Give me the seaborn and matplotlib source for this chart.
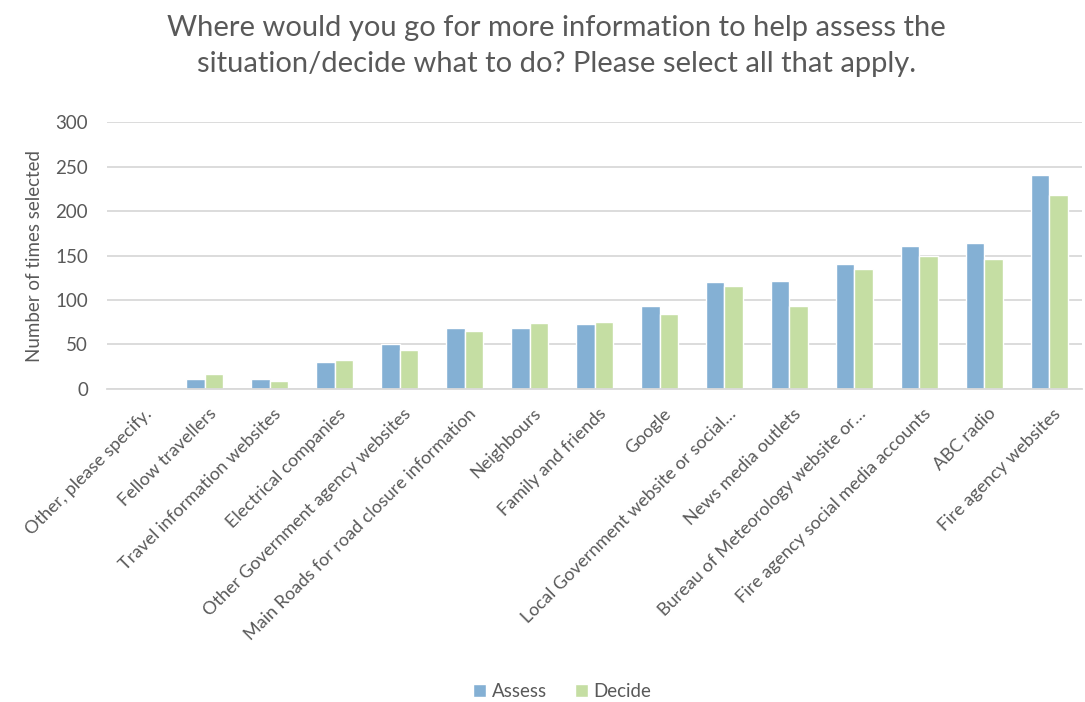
import matplotlib
matplotlib.use("Agg")
import matplotlib.pyplot as plt
import matplotlib.transforms as mtransforms
import seaborn as sns
import pandas as pd

categories = [
    "Other, please specify.",
    "Fellow travellers",
    "Travel information websites",
    "Electrical companies",
    "Other Government agency websites",
    "Main Roads for road closure information",
    "Neighbours",
    "Family and friends",
    "Google",
    "Local Government website or social\u2026",
    "News media outlets",
    "Bureau of Meteorology website or\u2026",
    "Fire agency social media accounts",
    "ABC radio",
    "Fire agency websites",
]
assess = [0, 11, 11, 30, 51, 69, 69, 73, 93, 120, 121, 141, 161, 164, 241]
decide = [0, 17, 9, 32, 44, 65, 74, 75, 84, 116, 93, 135, 149, 146, 218]
series_names = ["Assess", "Decide"]
title = "Where would you go for more information to help assess the\nsituation/decide what to do? Please select all that apply."
ylabel = "Number of times selected"

df = pd.DataFrame({
    "category": categories * 2,
    "value": assess + decide,
    "series": [series_names[0]] * len(categories) + [series_names[1]] * len(categories),
})

sns.set_theme(style="white")
plt.rcParams["font.family"] = ["Lato", "DejaVu Sans"]
text_color = "#595959"

fig = plt.figure(figsize=(10.85, 7.02), dpi=100)
ax = fig.add_axes([0.099, 0.446, 0.898, 0.38])

palette = {"Assess": "#84B0D4", "Decide": "#C5DEA3"}
sns.barplot(data=df, x="category", y="value", hue="series", palette=palette,
            width=0.57, ax=ax, saturation=1, legend=True)

ax.set_ylim(0, 300)
ax.set_yticks(range(0, 301, 50))
ax.yaxis.grid(True, color="#D9D9D9", linewidth=1.3)
ax.set_axisbelow(True)
for s in ["top", "right", "left"]:
    ax.spines[s].set_visible(False)
ax.spines["bottom"].set_color("#D9D9D9")
ax.spines["bottom"].set_linewidth(1.3)
ax.tick_params(axis="y", length=0, labelsize=13.5, labelcolor=text_color, pad=14)
ax.tick_params(axis="x", length=0, labelsize=13, labelcolor=text_color, pad=16)
offset = mtransforms.ScaledTranslation(0.09, 0.0, fig.dpi_scale_trans)
for lab in ax.get_xticklabels():
    lab.set_rotation(45)
    lab.set_ha("right")
    lab.set_va("center")
    lab.set_rotation_mode("anchor")
    lab.set_transform(lab.get_transform() + offset)
ax.set_xlabel("")
ax.set_ylabel(ylabel, fontsize=13.5, color=text_color, labelpad=9)
ax.set_xlim(-0.5, len(categories) - 0.5)

fig.suptitle(title, fontsize=21, color=text_color, x=0.513, y=0.978, va="top", linespacing=1.45)

leg = ax.legend(loc="lower center", bbox_to_anchor=(0.518, -0.008), bbox_transform=fig.transFigure,
                ncol=2, frameon=False, fontsize=13.5, handlelength=0.7, handleheight=0.7,
                handletextpad=0.3, columnspacing=1.5, borderaxespad=0.0)
for t in leg.get_texts():
    t.set_color(text_color)

fig.savefig("out.png", dpi=100)
